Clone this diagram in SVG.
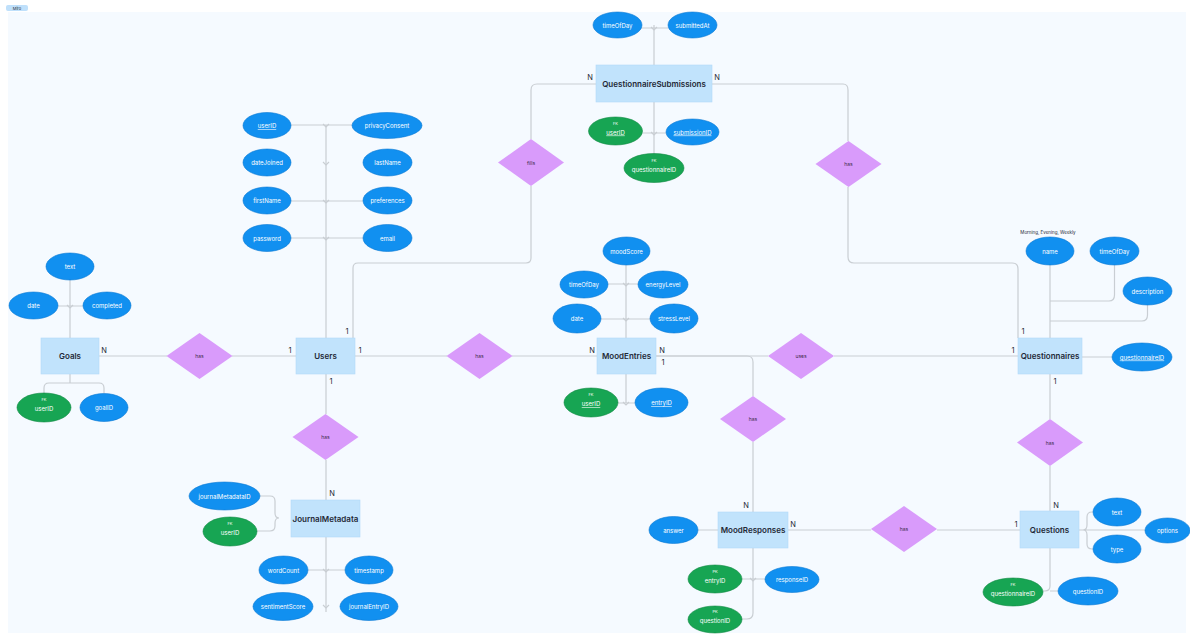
<svg xmlns="http://www.w3.org/2000/svg" width="1190" height="637" viewBox="0 0 1190 637">
<style>
.bg{fill:#f5faff}
.ent rect{fill:#c1e3fc;stroke:#b3d9f7;stroke-width:0.6}
.ent text{font-family:Inter,"Liberation Sans",sans-serif;font-size:8px;font-weight:600;fill:#1f2937;text-anchor:middle;dominant-baseline:central}
.rel polygon{fill:#d99bfb}
.rel text{font-family:Inter,"Liberation Sans",sans-serif;font-size:5px;fill:#3b2a4a;text-anchor:middle;dominant-baseline:central}
.att ellipse{fill:#1190f0;stroke:#0a78d4;stroke-width:0.6}
.att.fk ellipse{fill:#17a553;stroke:#108a43}
.att text{font-family:Inter,"Liberation Sans",sans-serif;font-size:6px;fill:#ffffff;text-anchor:middle;dominant-baseline:central}
.att text.k{font-size:4px}
.u{text-decoration:underline}
.conn path{fill:none;stroke:#c9ced3;stroke-width:1.2}
.card{font-family:Inter,"Liberation Sans",sans-serif;font-size:7.5px;fill:#1f2937;text-anchor:middle}
.note{font-family:Inter,"Liberation Sans",sans-serif;font-size:4.5px;fill:#1f2937;text-anchor:middle}
</style>
<rect class="bg" x="8" y="12" width="1178" height="621"/>
<g id="frame-tag">
<rect x="6" y="5" width="22" height="6" rx="2" fill="#bfe0fb"/>
<text x="17" y="9.6" font-family="Inter,'Liberation Sans',sans-serif" font-size="4px" fill="#1f2937" text-anchor="middle">Miro</text>
</g>
<g id="connectors" class="conn">
<path d="M99,356 H167 M232,356 H296"/>
<path d="M355,356 H447 M512,356 H597"/>
<path d="M326,374 V414 M326,460 V500"/>
<path d="M353,338 V268 Q353,263 358,263 H526 Q531,263 531,258 V186 M531,139 V90 Q531,84 537,84 H596"/>
<path d="M712,84 H843 Q848,84 848,90 V141 M848,187 V257 Q848,263 854,263 H1012 Q1018,263 1018,269 V338"/>
<path d="M656,356 H768 M834,356 H1018"/>
<path d="M656,356 H747 Q753,356 753,362 V396 M753,442 V512"/>
<path d="M1050,374 V419 M1050,466 V511"/>
<path d="M788,530 H871 M937,530 H1020"/>
<path d="M654,25 V65 M641,28 H668 M654,102 V154 M643,133 H666"/>
<path d="M326,125 V338 M291,125 H352 M291,201 H363 M291,238 H363"/>
<path d="M70,280 V338 M58,306 H83 M70,374 V383 M44,393 V388 Q44,383 49,383 H99 Q104,383 104,388 V393"/>
<path d="M626,265 V338 M608,284 H638 M601,319 H650 M626,374 V403 M618,403 H635"/>
<path d="M1050,265 V338 M1114.5,265 V295 Q1114.5,301 1109,301 H1050 M1147.5,305 V315 Q1147.5,321 1142,321 H1050 M1082,357 H1112"/>
<path d="M260,496 H270 Q275,496 275,501 V513 Q275,518 279,518 Q275,518 275,523 V526 Q275,531 270,531 H257 M326,537 V612 M308,570 H345"/>
<path d="M698,530 H718 M753,548 V613 Q753,619 747,619 H742 M742,579 H765"/>
<path d="M1093,512 H1092 Q1087,512 1087,517 V525 Q1087,530 1083,530 Q1087,530 1087,535 V544 Q1087,549 1092,549 H1093 M1079,530 H1145 M1050,548 V586 Q1050,591 1045,591 H1043 M1050,591 H1058"/>
<path d="M323,124 L326,127 L329,124 M323,162 L326,165 L329,162 M323,200 L326,203 L329,200 M323,237 L326,240 L329,237 M651,27 L654,30 L657,27 M651,132 L654,135 L657,132 M67,305 L70,308 L73,305 M623,283 L626,286 L629,283 M623,318 L626,321 L629,318 M623,402 L626,405 L629,402 M323,569 L326,572 L329,569 M323,605 L326,608 L329,605 M750,578 L753,581 L756,578"/>
</g>
<g class="card">
<text x="104" y="353">N</text><text x="290" y="353">1</text>
<text x="360" y="353">1</text><text x="592" y="353">N</text>
<text x="331" y="384">1</text><text x="332" y="496">N</text>
<text x="347" y="334">1</text><text x="590" y="80">N</text>
<text x="717" y="80">N</text><text x="1023" y="334">1</text>
<text x="662" y="353">N</text><text x="663" y="365">1</text>
<text x="1013" y="353">1</text>
<text x="746" y="508">N</text>
<text x="1055" y="384">1</text><text x="1056" y="508">N</text>
<text x="793" y="527">N</text><text x="1016" y="527">1</text>
</g>
<g id="Goals" class="ent"><rect x="41" y="338" width="58" height="36"/><text x="70" y="356">Goals</text></g>
<g id="Users" class="ent"><rect x="296" y="338" width="59" height="36"/><text x="325.5" y="356">Users</text></g>
<g id="MoodEntries" class="ent"><rect x="597" y="338" width="59" height="36"/><text x="626.5" y="356">MoodEntries</text></g>
<g id="Questionnaires" class="ent"><rect x="1018" y="338" width="64" height="36"/><text x="1050" y="356">Questionnaires</text></g>
<g id="QuestionnaireSubmissions" class="ent"><rect x="596" y="65" width="116" height="37"/><text x="654" y="83.5">QuestionnaireSubmissions</text></g>
<g id="JournalMetadata" class="ent"><rect x="291" y="500" width="69" height="37"/><text x="325.5" y="518.5">JournalMetadata</text></g>
<g id="MoodResponses" class="ent"><rect x="718" y="512" width="70" height="36"/><text x="753" y="530">MoodResponses</text></g>
<g id="Questions" class="ent"><rect x="1020" y="511" width="59" height="37"/><text x="1049.5" y="529.5">Questions</text></g>
<g id="rel-goals-users" class="rel"><polygon points="199.5,333 232.5,356 199.5,379 166.5,356"/><text x="199.5" y="356">has</text></g>
<g id="rel-users-moodentries" class="rel"><polygon points="479.5,333 512.5,356 479.5,379 446.5,356"/><text x="479.5" y="356">has</text></g>
<g id="rel-users-journal" class="rel"><polygon points="325.5,414 358.5,437 325.5,460 292.5,437"/><text x="325.5" y="437">has</text></g>
<g id="rel-users-submissions" class="rel"><polygon points="531,139 564,162.5 531,186 498,162.5"/><text x="531" y="162.5">fills</text></g>
<g id="rel-submissions-questionnaires" class="rel"><polygon points="848.5,141 881.5,164 848.5,187 815.5,164"/><text x="848.5" y="164">has</text></g>
<g id="rel-moodentries-questionnaires" class="rel"><polygon points="801,333 834,356 801,379 768,356"/><text x="801" y="356">uses</text></g>
<g id="rel-moodentries-responses" class="rel"><polygon points="753,396 786,419 753,442 720,419"/><text x="753" y="419">has</text></g>
<g id="rel-questionnaires-questions" class="rel"><polygon points="1050,419 1083,442.5 1050,466 1017,442.5"/><text x="1050" y="442.5">has</text></g>
<g id="rel-responses-questions" class="rel"><polygon points="904,506 937,529 904,552 871,529"/><text x="904" y="529">has</text></g>
<g id="qs-timeOfDay" class="att"><ellipse cx="617.5" cy="25" rx="24.5" ry="13"/><text x="617.5" y="25">timeOfDay</text></g>
<g id="qs-submittedAt" class="att"><ellipse cx="692.5" cy="25" rx="24.5" ry="13"/><text x="692.5" y="25">submittedAt</text></g>
<g id="qs-userID" class="att fk"><ellipse cx="615.5" cy="131" rx="27" ry="14"/><text class="k" x="615.5" y="123">FK</text><text class="u" x="615.5" y="132">userID</text></g>
<g id="qs-submissionID" class="att"><ellipse cx="692.5" cy="132" rx="26.5" ry="13"/><text class="u" x="692.5" y="132">submissionID</text></g>
<g id="qs-questionnaireID" class="att fk"><ellipse cx="654" cy="168" rx="30" ry="14.5"/><text class="k" x="654" y="160">FK</text><text x="654" y="169">questionnaireID</text></g>
<g id="users-userID" class="att"><ellipse cx="267" cy="125.5" rx="24" ry="13"/><text class="u" x="267" y="125.5">userID</text></g>
<g id="users-privacyConsent" class="att"><ellipse cx="387" cy="125.5" rx="35" ry="13"/><text x="387" y="125.5">privacyConsent</text></g>
<g id="users-dateJoined" class="att"><ellipse cx="267" cy="162.5" rx="24" ry="13.5"/><text x="267" y="162.5">dateJoined</text></g>
<g id="users-lastName" class="att"><ellipse cx="387.5" cy="162.5" rx="24.5" ry="13.5"/><text x="387.5" y="162.5">lastName</text></g>
<g id="users-firstName" class="att"><ellipse cx="267" cy="200.5" rx="24" ry="13.5"/><text x="267" y="200.5">firstName</text></g>
<g id="users-preferences" class="att"><ellipse cx="387.5" cy="200.5" rx="24.5" ry="13.5"/><text x="387.5" y="200.5">preferences</text></g>
<g id="users-password" class="att"><ellipse cx="267" cy="238" rx="24" ry="13.5"/><text x="267" y="238">password</text></g>
<g id="users-email" class="att"><ellipse cx="387.5" cy="238" rx="24.5" ry="13.5"/><text x="387.5" y="238">email</text></g>
<g id="goals-text" class="att"><ellipse cx="70" cy="266.5" rx="24" ry="13.5"/><text x="70" y="266.5">text</text></g>
<g id="goals-date" class="att"><ellipse cx="33.5" cy="305.5" rx="24.5" ry="13.5"/><text x="33.5" y="305.5">date</text></g>
<g id="goals-completed" class="att"><ellipse cx="107" cy="305.5" rx="24" ry="13.5"/><text x="107" y="305.5">completed</text></g>
<g id="goals-userID" class="att fk"><ellipse cx="44" cy="407.5" rx="27" ry="14.5"/><text class="k" x="44" y="399">FK</text><text x="44" y="408.5">userID</text></g>
<g id="goals-goalID" class="att"><ellipse cx="104" cy="407.5" rx="24" ry="14"/><text x="104" y="407.5">goalID</text></g>
<g id="me-moodScore" class="att"><ellipse cx="626.5" cy="251" rx="23.5" ry="14"/><text x="626.5" y="251">moodScore</text></g>
<g id="me-timeOfDay" class="att"><ellipse cx="584" cy="284.5" rx="24" ry="13.5"/><text x="584" y="284.5">timeOfDay</text></g>
<g id="me-energyLevel" class="att"><ellipse cx="663" cy="284.5" rx="25" ry="13.5"/><text x="663" y="284.5">energyLevel</text></g>
<g id="me-date" class="att"><ellipse cx="577" cy="318.5" rx="24" ry="14.5"/><text x="577" y="318.5">date</text></g>
<g id="me-stressLevel" class="att"><ellipse cx="674" cy="318.5" rx="24" ry="14.5"/><text x="674" y="318.5">stressLevel</text></g>
<g id="me-userID" class="att fk"><ellipse cx="591" cy="402.5" rx="27" ry="14.5"/><text class="k" x="591" y="394">FK</text><text class="u" x="591" y="403.5">userID</text></g>
<g id="me-entryID" class="att"><ellipse cx="661.5" cy="402.5" rx="26.5" ry="14.5"/><text class="u" x="661.5" y="402.5">entryID</text></g>
<text class="note" x="1048" y="234">Morning, Evening, Weekly</text>
<g id="qn-name" class="att"><ellipse cx="1050" cy="251" rx="24" ry="14"/><text x="1050" y="251">name</text></g>
<g id="qn-timeOfDay" class="att"><ellipse cx="1114.5" cy="251" rx="24.5" ry="14"/><text x="1114.5" y="251">timeOfDay</text></g>
<g id="qn-description" class="att"><ellipse cx="1147.5" cy="291" rx="24.5" ry="14"/><text x="1147.5" y="291">description</text></g>
<g id="qn-questionnaireID" class="att"><ellipse cx="1142" cy="357" rx="30" ry="14"/><text class="u" x="1142" y="357">questionnaireID</text></g>
<g id="jm-journalMetadataID" class="att"><ellipse cx="224.5" cy="496" rx="35.5" ry="14"/><text x="224.5" y="496">journalMetadataID</text></g>
<g id="jm-userID" class="att fk"><ellipse cx="230" cy="531.5" rx="27" ry="14.5"/><text class="k" x="230" y="523">FK</text><text x="230" y="532.5">userID</text></g>
<g id="jm-wordCount" class="att"><ellipse cx="283.5" cy="570" rx="24.5" ry="14"/><text x="283.5" y="570">wordCount</text></g>
<g id="jm-timestamp" class="att"><ellipse cx="369" cy="570" rx="24" ry="14"/><text x="369" y="570">timestamp</text></g>
<g id="jm-sentimentScore" class="att"><ellipse cx="283" cy="606.5" rx="30" ry="14"/><text x="283" y="606.5">sentimentScore</text></g>
<g id="jm-journalEntryID" class="att"><ellipse cx="369" cy="606.5" rx="29" ry="14"/><text x="369" y="606.5">journalEntryID</text></g>
<g id="mr-answer" class="att"><ellipse cx="673.5" cy="530" rx="24.5" ry="13.5"/><text x="673.5" y="530">answer</text></g>
<g id="mr-entryID" class="att fk"><ellipse cx="715" cy="579" rx="27" ry="14"/><text class="k" x="715" y="571">PK</text><text x="715" y="580">entryID</text></g>
<g id="mr-responseID" class="att"><ellipse cx="792" cy="579.5" rx="27" ry="13"/><text x="792" y="579.5">responseID</text></g>
<g id="mr-questionID" class="att fk"><ellipse cx="715" cy="619.5" rx="27" ry="13.5"/><text class="k" x="715" y="611.5">PK</text><text x="715" y="620.5">questionID</text></g>
<g id="q-text" class="att"><ellipse cx="1117" cy="512" rx="24" ry="14"/><text x="1117" y="512">text</text></g>
<g id="q-options" class="att"><ellipse cx="1167.5" cy="530.5" rx="22.5" ry="12.5"/><text x="1167.5" y="530.5">options</text></g>
<g id="q-type" class="att"><ellipse cx="1117" cy="549" rx="24" ry="14"/><text x="1117" y="549">type</text></g>
<g id="q-questionnaireID" class="att fk"><ellipse cx="1013" cy="592" rx="30" ry="14"/><text class="k" x="1013" y="584">FK</text><text x="1013" y="593">questionnaireID</text></g>
<g id="q-questionID" class="att"><ellipse cx="1088" cy="591" rx="30" ry="14"/><text x="1088" y="591">questionID</text></g>
</svg>
